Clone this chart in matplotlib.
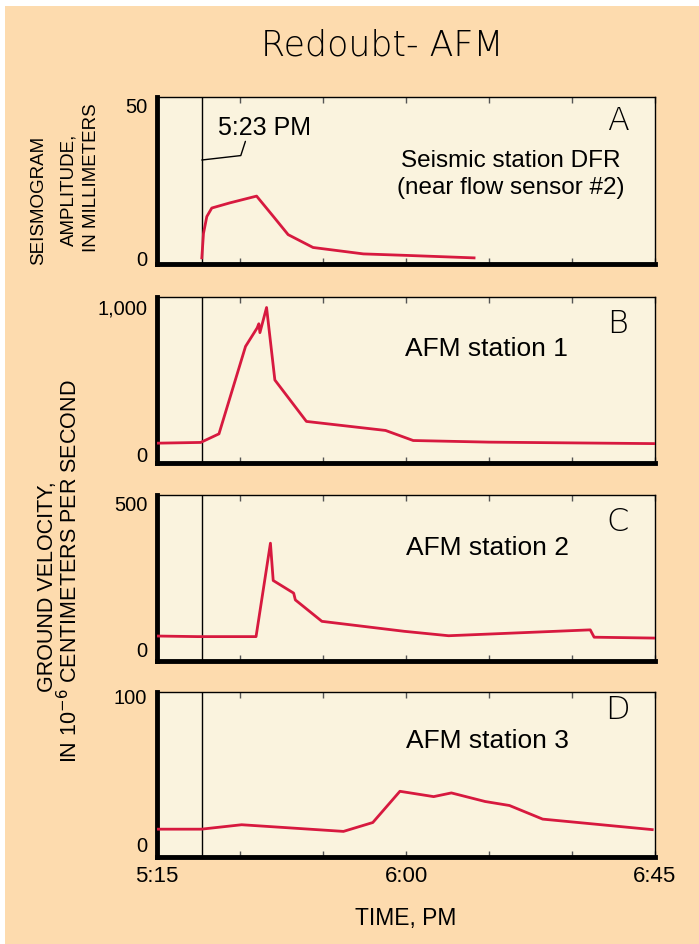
import matplotlib
matplotlib.use("Agg")
import matplotlib.pyplot as plt
from matplotlib.patches import Rectangle

# minutes after 5:15 PM
tick_minutes = [0, 15, 30, 45, 60, 75, 90]
tick_labels = ["5:15", "", "", "6:00", "", "", "6:45"]
event_minute = 8.1  # 5:23 PM

# panel A - seismic station DFR (mm)
a_t = [8.1, 8.4, 9.0, 9.9, 13.2, 18.0, 21.0, 23.7, 28.2, 37.3, 45.3, 57.3]
a_v = [0, 8, 13.5, 16.3, 18.0, 20.2, 13.6, 7.6, 3.4, 1.3, 0.8, 0]

# panel B - AFM station 1
b_t = [0, 7.9, 11.2, 16.0, 18.1, 18.4, 18.6, 19.8, 21.3, 27.0, 41.3, 46.3, 60.0, 74.7, 90]
b_v = [73, 78, 136, 727, 852, 880, 820, 990, 500, 220, 159, 91, 80, 75, 70]

# panel C - AFM station 2
c_t = [0, 7.3, 17.9, 20.5, 21.0, 24.7, 25.0, 29.8, 44.7, 52.7, 78.3, 79.0, 90]
c_v = [44, 42, 42, 360, 233, 190, 167, 94, 60, 45, 65, 40, 37]

# panel D - AFM station 3
d_t = [0, 8, 15.3, 33.7, 39, 43.9, 50, 53.2, 59.3, 63.7, 69.7, 89.5]
d_v = [10, 10, 13, 8.5, 14.5, 35.6, 32, 34.5, 28.7, 26, 16.8, 9.7]

BG = "#FDDBAE"
FACE = "#FAF3DE"
RED = "#D7193F"
FONT = ["Liberation Sans", "DejaVu Sans"]

W, H = 699, 945
fig = plt.figure(figsize=(W / 100, H / 100), dpi=100, facecolor="white")
fig.add_artist(Rectangle((5 / W, 0), 1, (H - 7) / H, transform=fig.transFigure,
                         facecolor=BG, edgecolor="none", zorder=-1))


def px_axes(left, top, right, bottom):
    return fig.add_axes([left / W, 1 - bottom / H, (right - left) / W, (bottom - top) / H])


panels = [
    # (top, bottom, t, v, ylim, top tick label, top value, letter, text, text pos, text size, letter y)
    (98, 265, a_t, a_v, (-2.0, 52.6), "50", 50, "A",
     "Seismic station DFR\n(near flow sensor #2)", (64, 27.5), 17.5, 45),
    (298, 464, b_t, b_v, (-61, 1061), "1,000", 1000, "B", "AFM station 1", (59.5, 716), 19, 886),
    (496, 662, c_t, c_v, (-41, 524), "500", 500, "C", "AFM station 2", (59.8, 347), 19, 437),
    (693, 858, d_t, d_v, (-8.8, 102.7), "100", 100, "D", "AFM station 3", (59.8, 70), 19, 91),
]

axes = []
for top, bottom, t, v, ylim, ylab, yval, letter, label, lpos, lsize, letter_y in panels:
    ax = px_axes(157, top, 655, bottom)
    ax.set_facecolor(FACE)
    ax.plot(t, v, color=RED, lw=2.0, zorder=3)
    ax.axvline(event_minute, color="black", lw=1.0, zorder=2)
    ax.set_xlim(0, 90)
    ax.set_ylim(*ylim)
    ax.set_xticks(tick_minutes)
    ax.set_xticklabels([])
    ax.tick_params(axis="x", direction="in", top=True, bottom=True,
                   length=4, width=1, color="#555555")
    ax.set_yticks([0, yval])
    ax.set_yticklabels(["0", ylab], fontsize=14.5, family=FONT)
    ax.tick_params(axis="y", length=0, pad=7)
    for side in ["top", "right"]:
        ax.spines[side].set_linewidth(1.0)
    for side in ["left", "bottom"]:
        ax.spines[side].set_linewidth(3.5)
    ax.text(lpos[0], lpos[1], label, ha="center", va="center",
            fontsize=lsize, family=FONT, linespacing=1.3)
    ax.text(83.3, letter_y, letter, ha="center", va="center",
            fontsize=23, fontweight="light")
    axes.append(ax)

axA = axes[0]
axA.annotate("5:23 PM", xy=(event_minute, 32), xytext=(19.5, 39),
             textcoords="data", ha="center", va="bottom", fontsize=18, family=FONT,
             arrowprops=dict(arrowstyle="-", color="black", lw=1, shrinkA=0, shrinkB=0,
                             relpos=(0.3, 0),
                             connectionstyle="angle,angleA=72,angleB=6.5,rad=0"))

axD = axes[-1]
axD.set_xticklabels(tick_labels, fontsize=16, family=FONT)
axD.tick_params(axis="x", pad=6)
axD.set_xlabel("TIME, PM", fontsize=16.5, family=FONT, labelpad=14)


# y-axis titles
def fig_text(x, y, s, size, **kw):
    fig.text(x / W, 1 - y / H, s, rotation=90, fontsize=size, family=FONT,
             ha="center", va="center", **kw)


fig_text(39, 200, "SEISMOGRAM", 13.5)
fig_text(69, 190, "AMPLITUDE,", 13.5)
fig_text(91, 178, "IN MILLIMETERS", 13.5)
fig_text(48, 587, "GROUND VELOCITY,", 15.5)
fig_text(70, 571, "IN 10$^{-6}$ CENTIMETERS PER SECOND", 15.5)

fig.text(382 / W, 1 - 45 / H, "Redoubt- AFM", ha="center", va="center",
         fontsize=25, fontweight="light")

fig.savefig("out.png", dpi=100, facecolor=fig.get_facecolor())
